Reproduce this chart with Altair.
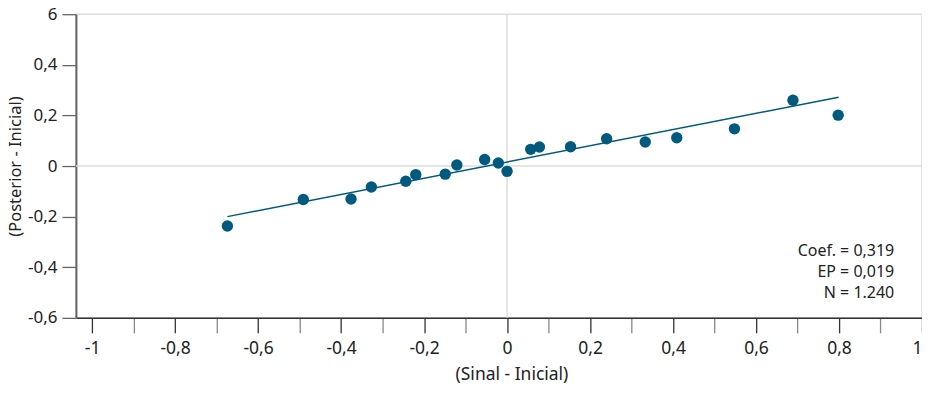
import altair as alt
import pandas as pd

# Data
x_vals = [-0.674, -0.491, -0.376, -0.327, -0.244, -0.220, -0.149, -0.121, -0.054, -0.021,
          0.000, 0.057, 0.078, 0.153, 0.240, 0.333, 0.409, 0.548, 0.689, 0.798]
y_vals = [-0.237, -0.132, -0.130, -0.083, -0.060, -0.034, -0.032, 0.004, 0.026, 0.012,
          -0.021, 0.066, 0.075, 0.076, 0.108, 0.095, 0.112, 0.147, 0.260, 0.201]
fit_x = [-0.674, 0.799]
fit_y = [-0.200, 0.272]
x_ticks = [-1, -0.9, -0.8, -0.7, -0.6, -0.5, -0.4, -0.3, -0.2, -0.1, 0,
           0.1, 0.2, 0.3, 0.4, 0.5, 0.6, 0.7, 0.8, 0.9, 1]
y_ticks = [-0.6, -0.4, -0.2, 0, 0.2, 0.4, 0.6]
notes = ["Coef. = 0,319", "EP = 0,019", "N = 1.240"]
note_y = [-0.336, -0.419, -0.502]
note_x = 0.933

FONT = "Noto Sans"
DOT = "#005a7d"
TXT = "#222222"

pts = pd.DataFrame({"x": x_vals, "y": y_vals})
fit = pd.DataFrame({"x": fit_x, "y": fit_y})
ann = pd.DataFrame({"x": [note_x] * 3, "y": note_y, "t": notes})
zero_h = pd.DataFrame({"y": [0]})
zero_v = pd.DataFrame({"x": [0]})

xscale = alt.Scale(domain=[-1.039, 1], nice=False, zero=False)
yscale = alt.Scale(domain=[-0.6, 0.6], nice=False, zero=False)

xaxis = alt.Axis(
    values=x_ticks,
    labelExpr="round(datum.value*10) % 2 == 0 ? replace(toString(datum.value), '.', ',') : ''",
    grid=False, tickSize=15, tickWidth=1.3,
    tickColor={"condition": {"test": "round(datum.value*10) % 2 != 0", "value": "#888888"},
               "value": "#333333"},
    domainColor="#333", domainWidth=1.5,
    labelFont=FONT, labelFontSize=17.5, labelColor=TXT, labelPadding=7,
    title="(Sinal - Inicial)", titleFont=FONT, titleFontSize=17.5, titleFontWeight="normal",
    titleColor=TXT, titlePadding=8, titleX=436,
)
yaxis = alt.Axis(
    values=y_ticks,
    labelExpr="datum.value == 0.6 ? '6' : replace(toString(datum.value), '.', ',')",
    grid=False, tickSize=14, tickColor="#666", tickWidth=1.3,
    domainColor="#666", domainWidth=2,
    labelFont=FONT, labelFontSize=17, labelColor=TXT, labelPadding=5,
    title="(Posterior - Inicial)", titleFont=FONT, titleFontSize=16.5, titleFontWeight="normal",
    titleColor=TXT, titlePadding=4,
)

hline = alt.Chart(zero_h).mark_rule(color="#dddddd", strokeWidth=1.5).encode(
    y=alt.Y("y:Q", scale=yscale, axis=yaxis))
vline = alt.Chart(zero_v).mark_rule(color="#dddddd", strokeWidth=1.5).encode(
    x=alt.X("x:Q", scale=xscale, axis=xaxis))
line = alt.Chart(fit).mark_line(color=DOT, strokeWidth=1.4).encode(
    x=alt.X("x:Q", scale=xscale), y=alt.Y("y:Q", scale=yscale))
dots = alt.Chart(pts).mark_circle(color=DOT, size=130, opacity=1).encode(
    x=alt.X("x:Q", scale=xscale), y=alt.Y("y:Q", scale=yscale))
text = alt.Chart(ann).mark_text(align="right", baseline="middle", font=FONT,
                                fontSize=16, color=TXT).encode(
    x=alt.X("x:Q", scale=xscale), y=alt.Y("y:Q", scale=yscale), text="t:N")

chart = alt.layer(hline, vline, line, dots, text).properties(
    width=847, height=304,
    autosize=alt.AutoSizeParams(type="none"),
    padding={"left": 68, "top": 6, "right": 0, "bottom": 70},
).configure_view(stroke="#dddddd", strokeWidth=1.5)

chart.save("out.html", embed_options={"renderer": "svg", "actions": False})
